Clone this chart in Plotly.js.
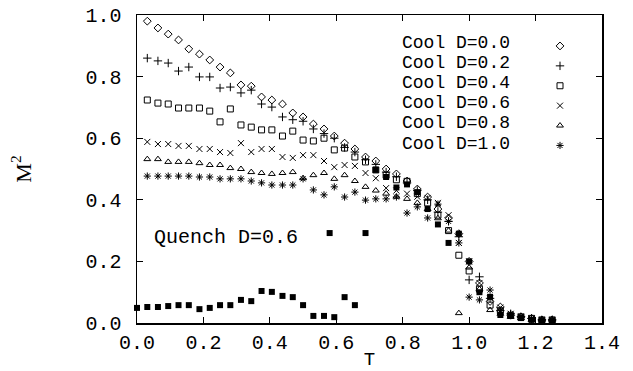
<!DOCTYPE html>
<html>
<head>
<meta charset="utf-8">
<script src="https://cdn.plot.ly/plotly-3.0.1.min.js"></script>
<style>html,body{margin:0;padding:0;background:#fff}#chart{width:633px;height:371px}</style>
</head>
<body>
<div id="chart"></div>
<script>
// Temperatures of the cooling runs
const T = [0.031,0.063,0.094,0.125,0.156,0.188,0.219,0.25,0.281,0.313,0.344,0.375,0.406,0.438,0.469,0.5,0.531,0.563,0.594,0.625,0.656,0.688,0.719,0.75,0.781,0.813,0.844,0.875,0.906,0.938,0.969,1.0,1.031,1.063,1.094,1.125,1.156,1.188,1.219,1.25];

const coolD00 = [0.98,0.958,0.938,0.919,0.89,0.873,0.854,0.831,0.812,0.773,0.769,0.734,0.724,0.711,0.682,0.669,0.646,0.63,0.607,0.584,0.565,0.539,0.526,0.5,0.484,0.461,0.435,0.409,0.37,0.341,0.29,0.2,0.13,0.07,0.052,0.025,0.02,0.015,0.01,0.01];
const coolD02 = [0.86,0.851,0.844,0.818,0.831,0.799,0.799,0.763,0.766,0.747,0.756,0.711,0.701,0.669,0.66,0.655,0.63,0.615,0.6,0.57,0.555,0.53,0.515,0.49,0.475,0.455,0.43,0.4,0.36,0.33,0.28,0.14,0.15,0.08,0.04,0.03,0.02,0.015,0.01,0.01];
const coolD04 = [0.724,0.714,0.711,0.698,0.698,0.698,0.688,0.653,0.695,0.643,0.636,0.627,0.627,0.607,0.623,0.594,0.591,0.6,0.562,0.568,0.539,0.523,0.497,0.48,0.465,0.46,0.42,0.39,0.35,0.3,0.22,0.169,0.11,0.058,0.04,0.025,0.02,0.015,0.01,0.01];
const coolD06 = [0.588,0.581,0.581,0.575,0.575,0.565,0.565,0.555,0.552,0.584,0.555,0.565,0.565,0.539,0.536,0.545,0.545,0.526,0.506,0.513,0.51,0.487,0.47,0.438,0.43,0.42,0.41,0.406,0.39,0.35,0.26,0.2,0.13,0.08,0.05,0.03,0.02,0.015,0.01,0.01];
const coolD08 = [0.532,0.532,0.523,0.523,0.523,0.519,0.513,0.513,0.503,0.5,0.49,0.487,0.484,0.487,0.49,0.47,0.48,0.487,0.468,0.48,0.461,0.442,0.43,0.42,0.41,0.403,0.39,0.37,0.34,0.3,0.032,0.18,0.11,0.042,0.03,0.02,0.015,0.01,0.01,0.01];
const coolD10 = [0.477,0.477,0.477,0.477,0.477,0.474,0.474,0.468,0.468,0.468,0.461,0.455,0.448,0.448,0.448,0.468,0.432,0.416,0.442,0.409,0.425,0.399,0.403,0.403,0.409,0.357,0.377,0.341,0.386,0.33,0.26,0.084,0.075,0.107,0.04,0.03,0.02,0.015,0.01,0.01];

// Quench run D=0.6
const quenchT = [0.0,0.031,0.063,0.094,0.125,0.156,0.188,0.219,0.25,0.281,0.313,0.344,0.375,0.406,0.438,0.469,0.5,0.531,0.563,0.58,0.594,0.625,0.656,0.688,0.719,0.75,0.781,0.813,0.844,0.875,0.906,0.938,0.969,1.0,1.031,1.063,1.094,1.125,1.156,1.188,1.219,1.25];
const quenchM = [0.049,0.052,0.052,0.055,0.058,0.058,0.045,0.049,0.058,0.058,0.075,0.071,0.104,0.101,0.088,0.084,0.058,0.023,0.023,0.292,0.019,0.084,0.058,0.292,0.497,0.474,0.44,0.45,0.425,0.37,0.32,0.26,0.29,0.2,0.1,0.085,0.026,0.023,0.016,0.01,0.006,0.006];

const seriesNames = ["Cool D=0.0","Cool D=0.2","Cool D=0.4","Cool D=0.6","Cool D=0.8","Cool D=1.0"];
const seriesValues = [coolD00,coolD02,coolD04,coolD06,coolD08,coolD10];
const symbols = ["diamond-open","cross-thin-open","square-open","x-thin-open","triangle-up-open","asterisk-open"];
const sizes = [6,6,6,6,6,6];

const traces = seriesValues.map((vals,i)=>({
  type:"scatter", mode:"markers", x:T, y:vals, name:" ",
  marker:{symbol:symbols[i], size:sizes[i], color:"#000", line:{color:"#000", width:1}},
  cliponaxis:false
}));
traces.push({
  type:"scatter", mode:"markers", x:quenchT, y:quenchM, name:"Quench D=0.6", showlegend:false,
  marker:{symbol:"square", size:6, color:"#000", line:{color:"#000", width:0}},
  cliponaxis:false
});

const font = "Liberation Mono, Courier New, monospace";
const annotations = seriesNames.map((n,i)=>({
  xref:"paper", yref:"paper", x:(400-137)/465, y:(323-(42+20.2*i))/308,
  xanchor:"left", yanchor:"middle", text:n, showarrow:false, height:19, valign:"middle",
  font:{family:font, size:18, color:"#000"}
}));
annotations.push({
  xref:"x", yref:"y", x:0.268, y:0.279, xanchor:"center", yanchor:"middle",
  text:"Quench D=0.6", showarrow:false, font:{family:font, size:20, color:"#000"}
});

const axisCommon = {
  showgrid:false, zeroline:false, showline:true, linecolor:"#000", linewidth:1.5,
  mirror:"ticks", ticks:"inside", ticklen:6, tickwidth:1, tickcolor:"#000",
  tickfont:{family:font, size:20, color:"#000"}
};

const layout = {
  width:633, height:371,
  margin:{l:137, r:31, t:15, b:48, autoexpand:false},
  paper_bgcolor:"#fff", plot_bgcolor:"#fff",
  showlegend:true,
  legend:{x:(540-137)/465, y:(323-31)/308, xanchor:"left", yanchor:"top",
    bgcolor:"rgba(0,0,0,0)", font:{family:font, size:13, color:"#000"}},
  xaxis:Object.assign({}, axisCommon, {range:[0,1.4], dtick:0.2, tick0:0, tickformat:".1f",
    title:{text:"T", font:{family:font, size:19, color:"#000"}, standoff:0}}),
  yaxis:Object.assign({}, axisCommon, {range:[0,1.0], dtick:0.2, tick0:0, tickformat:".1f",
    ticklabelstandoff:10, automargin:true,
    title:{text:"M<sup>2</sup>", font:{family:"Liberation Serif, serif", size:22, color:"#000"}, standoff:48}}),
  annotations:annotations
};

Plotly.newPlot("chart", traces, layout, {displayModeBar:false, staticPlot:true});
</script>
</body>
</html>
